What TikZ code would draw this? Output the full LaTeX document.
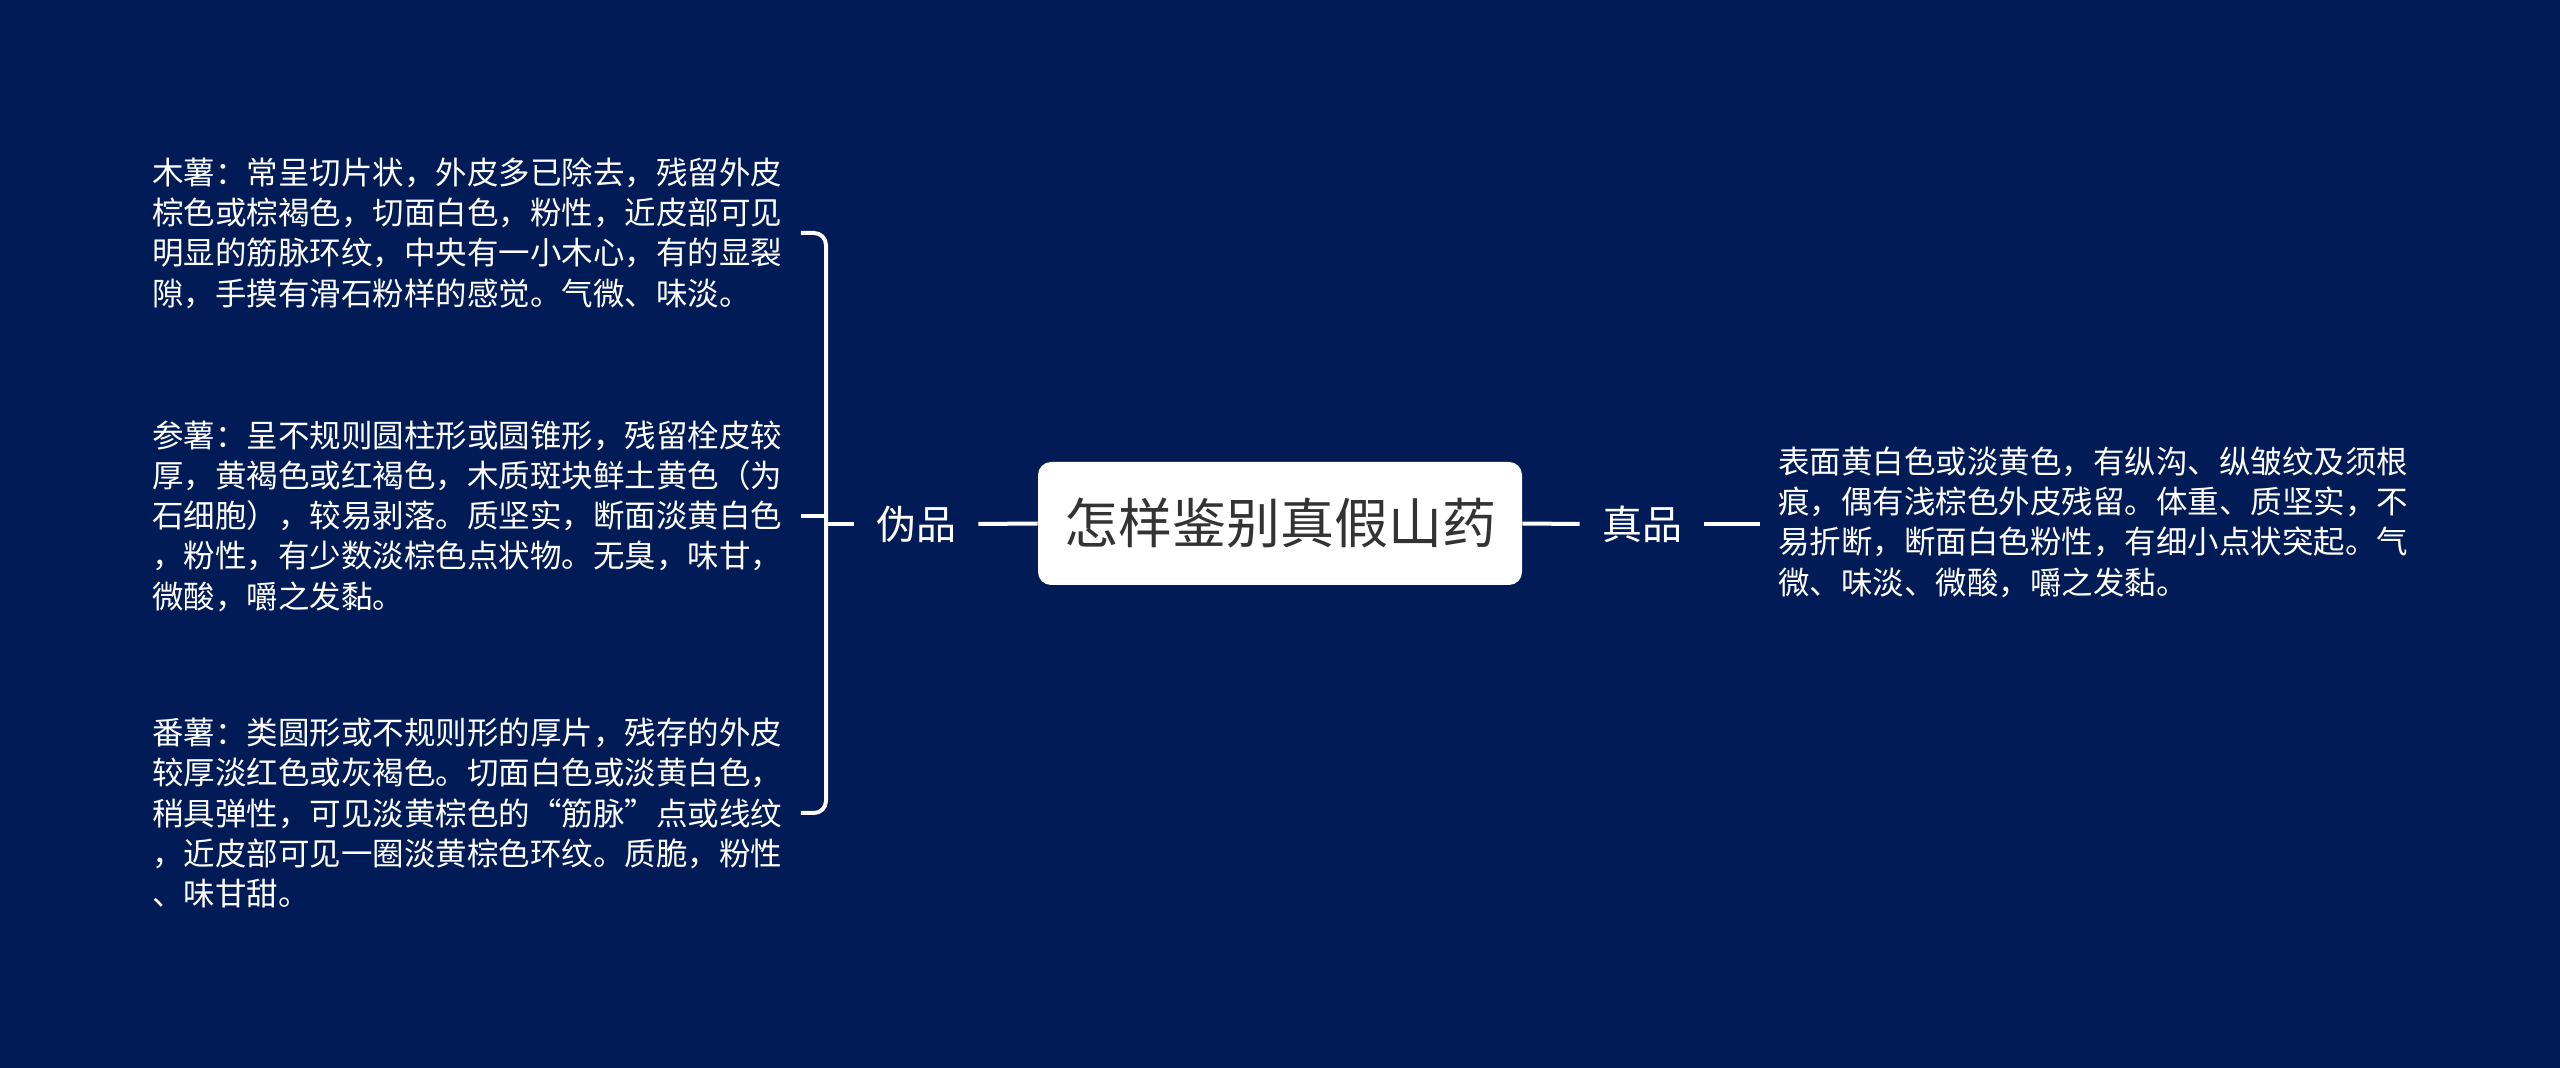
\documentclass[tikz,border=0pt]{standalone}
\usepackage{fontspec}
\setmainfont{Noto Sans CJK SC}
\definecolor{bg}{RGB}{1,27,87}
\definecolor{roottext}{RGB}{51,51,51}
\begin{document}
\begin{tikzpicture}[x=0.5pt,y=-0.5pt,
  conn/.style={draw=white,line width=2pt},
  leaf/.style={text=white,anchor=west,inner sep=0pt,align=left,text width=316pt,font=\fontsize{15.75pt}{20.15pt}\selectfont},
  branch/.style={text=white,inner xsep=11pt,inner ysep=2pt,font=\fontsize{20pt}{24pt}\selectfont},
  rootbox/.style={fill=white,rounded corners=6.5pt,minimum width=242pt,minimum height=61.5pt,inner sep=0pt,text=roottext,font=\fontsize{27pt}{32pt}\selectfont}]
\fill[bg] (0,0) rectangle (2560,1068);
\useasboundingbox (0,0) rectangle (2560,1068);

\node[rootbox] (root) at (1280,523.5) {怎样鉴别真假山药};
\node[branch] (wei) at (916,524) {伪品};
\node[branch] (zhen) at (1642,524) {真品};

\node[leaf] (mu) at (152,233) {木薯：常呈切片状，外皮多已除去，残留外皮\\棕色或棕褐色，切面白色，粉性，近皮部可见\\明显的筋脉环纹，中央有一小木心，有的显裂\\隙，手摸有滑石粉样的感觉。气微、味淡。};
\node[leaf] (shen) at (152,516) {参薯：呈不规则圆柱形或圆锥形，残留栓皮较\\厚，黄褐色或红褐色，木质斑块鲜土黄色（为\\石细胞），较易剥落。质坚实，断面淡黄白色\\，粉性，有少数淡棕色点状物。无臭，味甘，\\微酸，嚼之发黏。};
\node[leaf] (fan) at (152,813) {番薯：类圆形或不规则形的厚片，残存的外皮\\较厚淡红色或灰褐色。切面白色或淡黄白色，\\稍具弹性，可见淡黄棕色的“筋脉”点或线纹\\，近皮部可见一圈淡黄棕色环纹。质脆，粉性\\、味甘甜。};
\node[leaf] (zhentext) at (1778,522) {表面黄白色或淡黄色，有纵沟、纵皱纹及须根\\痕，偶有浅棕色外皮残留。体重、质坚实，不\\易折断，断面白色粉性，有细小点状突起。气\\微、味淡、微酸，嚼之发黏。};

\coordinate (bx) at (826,524);
\draw[conn,rounded corners=6pt] ([xshift=8pt]mu.east) -| (bx) |- ([xshift=8pt]fan.east);
\draw[conn] ([xshift=8pt]shen.east) -- (bx |- shen.east);
\draw[conn] (bx) -- (wei.west);
\draw[conn] (wei.east) -- (root.west);
\draw[conn] (root.east) -- (zhen.west);
\draw[conn] (zhen.east) -- ([xshift=-9pt]zhentext.west |- zhen.east);
\end{tikzpicture}
\end{document}
